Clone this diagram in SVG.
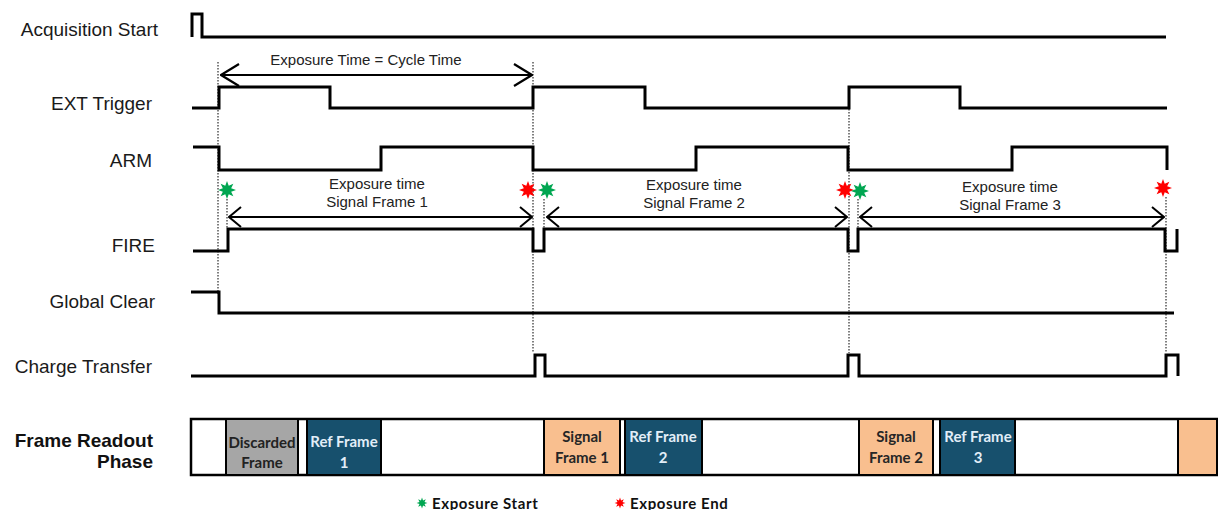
<svg xmlns="http://www.w3.org/2000/svg" xmlns:xlink="http://www.w3.org/1999/xlink" width="1218" height="510" viewBox="0 0 1218 510">
  <style>
    .lbl { font-family: "Liberation Sans", Arial, sans-serif; font-size: 19px; fill: #1a1a1a; text-anchor: end; }
    .sig { fill: none; stroke: #000; stroke-width: 3; stroke-linejoin: miter; }
    .dot { fill: none; stroke: #555; stroke-width: 1.5; stroke-dasharray: 1.5 1.5; }
    .arr { fill: none; stroke: #000; stroke-width: 2; }
    .exp { font-family: "Liberation Sans", Arial, sans-serif; font-size: 15px; fill: #222; text-anchor: middle; }
    .cell { stroke: #000; stroke-width: 2; }
    .ctxt { font-family: Lato, "Open Sans", sans-serif; font-weight: bold; font-size: 15px; text-anchor: middle; }
    .bold { font-family: "Liberation Sans", Arial, sans-serif; font-weight: bold; font-size: 19px; fill: #111; text-anchor: end; }
    .leg { font-family: Lato, "Open Sans", sans-serif; font-weight: bold; font-size: 15px; fill: #111; letter-spacing: 0.6px; }
  </style>
  <defs>
    <marker id="ah" viewBox="0 0 14 22" refX="13" refY="11" markerWidth="14" markerHeight="22" markerUnits="userSpaceOnUse" orient="auto-start-reverse">
      <path d="M1,1 L13,11 L1,21" fill="none" stroke="#000" stroke-width="2"/>
    </marker>
    <marker id="ahBig" viewBox="0 0 20 24" refX="19" refY="12" markerWidth="20" markerHeight="24" markerUnits="userSpaceOnUse" orient="auto-start-reverse">
      <path d="M1,1 L19,12 L1,23" fill="none" stroke="#000" stroke-width="2.2"/>
    </marker>
    <path id="star" d="M0,-9 L1.72,-4.16 L6.36,-6.36 L4.16,-1.72 L9,0 L4.16,1.72 L6.36,6.36 L1.72,4.16 L0,9 L-1.72,4.16 L-6.36,6.36 L-4.16,1.72 L-9,0 L-4.16,-1.72 L-6.36,-6.36 L-1.72,-4.16 Z"/>
  </defs>

  <!-- signal labels -->
  <g id="labels">
    <text class="lbl" x="158" y="36">Acquisition Start</text>
    <text class="lbl" x="152" y="110">EXT Trigger</text>
    <text class="lbl" x="152" y="167">ARM</text>
    <text class="lbl" x="155" y="252">FIRE</text>
    <text class="lbl" x="155" y="308">Global Clear</text>
    <text class="lbl" x="152" y="373">Charge Transfer</text>
  </g>

  <!-- dotted reference lines -->
  <g id="guides">
    <line class="dot" x1="218" y1="62" x2="218" y2="294"/>
    <line class="dot" x1="533" y1="62" x2="533" y2="353"/>
    <line class="dot" x1="849" y1="109" x2="849" y2="353"/>
    <line class="dot" x1="1166" y1="197" x2="1166" y2="353"/>
    <line class="dot" x1="227" y1="199" x2="227" y2="229"/>
    <line class="dot" x1="544" y1="199" x2="544" y2="229"/>
    <line class="dot" x1="858" y1="199" x2="858" y2="229"/>
  </g>

  <!-- signals -->
  <g id="acq-start"><path class="sig" d="M192,37 V14 H202 V37 H1166"/></g>
  <g id="ext-trigger"><path class="sig" d="M192,108 H219 V87 H330 V108 H533 V87 H645 V108 H849 V87 H960 V108 H1167"/></g>
  <g id="arm"><path class="sig" d="M193,147 H219 V170 H381 V147 H533 V170 H696 V147 H848 V170 H1012 V147 H1167 V170"/></g>
  <g id="fire"><path class="sig" d="M193,251 H228 V229 H533 V251 H544 V229 H848 V251 H858 V229 H1165 V251 H1177 V229"/></g>
  <g id="global-clear"><path class="sig" d="M191,292 H219 V313 H1174"/></g>
  <g id="charge-transfer"><path class="sig" d="M191,376 H535 V355 H545 V376 H848 V355 H859 V376 H1166 V355 H1178 V376"/></g>

  <!-- dimension arrows -->
  <g id="connectors">
    <line class="arr" x1="221" y1="75" x2="532" y2="75" marker-start="url(#ahBig)" marker-end="url(#ahBig)"/>
    <line class="arr" x1="229" y1="217" x2="532" y2="217" marker-start="url(#ah)" marker-end="url(#ah)"/>
    <line class="arr" x1="547" y1="217" x2="847" y2="217" marker-start="url(#ah)" marker-end="url(#ah)"/>
    <line class="arr" x1="860" y1="217" x2="1164" y2="217" marker-start="url(#ah)" marker-end="url(#ah)"/>
  </g>

  <g id="arrow-texts">
    <text class="exp" x="366" y="65">Exposure Time = Cycle Time</text>
    <text class="exp" x="377" y="189">Exposure time</text>
    <text class="exp" x="377" y="207">Signal Frame 1</text>
    <text class="exp" x="694" y="190">Exposure time</text>
    <text class="exp" x="694" y="208">Signal Frame 2</text>
    <text class="exp" x="1010" y="192">Exposure time</text>
    <text class="exp" x="1010" y="210">Signal Frame 3</text>
  </g>

  <!-- exposure start / end markers -->
  <g id="stars">
    <use xlink:href="#star" href="#star" x="227" y="190" fill="#00a651"/>
    <use xlink:href="#star" href="#star" x="528" y="190" fill="#ff0000"/>
    <use xlink:href="#star" href="#star" x="547" y="190" fill="#00a651"/>
    <use xlink:href="#star" href="#star" x="845" y="190" fill="#ff0000"/>
    <use xlink:href="#star" href="#star" x="860" y="191" fill="#00a651"/>
    <use xlink:href="#star" href="#star" x="1163" y="188" fill="#ff0000"/>
  </g>

  <!-- frame readout phase -->
  <g id="readout-label">
    <text class="bold" x="153" y="447">Frame Readout</text>
    <text class="bold" x="153" y="468">Phase</text>
  </g>
  <g id="readout">
    <rect x="191" y="419" width="1026" height="56" fill="#fff" stroke="#000" stroke-width="2.5"/>
    <g id="discarded">
      <rect class="cell" x="226" y="419" width="72" height="56" fill="#a6a6a6"/>
      <text class="ctxt" x="262" y="448" fill="#222">Discarded</text>
      <text class="ctxt" x="262" y="468" fill="#222">Frame</text>
    </g>
    <g id="ref1">
      <rect class="cell" x="307" y="419" width="74" height="56" fill="#17506d"/>
      <text class="ctxt" x="344" y="447" fill="#e2eef8">Ref Frame</text>
      <text class="ctxt" x="344" y="468" fill="#e2eef8">1</text>
    </g>
    <g id="sig1">
      <rect class="cell" x="544" y="419" width="76" height="56" fill="#f9bf8f"/>
      <text class="ctxt" x="582" y="442" fill="#262626">Signal</text>
      <text class="ctxt" x="582" y="463" fill="#262626">Frame 1</text>
    </g>
    <g id="ref2">
      <rect class="cell" x="625" y="419" width="77" height="56" fill="#17506d"/>
      <text class="ctxt" x="663" y="442" fill="#e2eef8">Ref Frame</text>
      <text class="ctxt" x="663" y="463" fill="#e2eef8">2</text>
    </g>
    <g id="sig2">
      <rect class="cell" x="859" y="419" width="74" height="56" fill="#f9bf8f"/>
      <text class="ctxt" x="896" y="442" fill="#262626">Signal</text>
      <text class="ctxt" x="896" y="463" fill="#262626">Frame 2</text>
    </g>
    <g id="ref3">
      <rect class="cell" x="940" y="419" width="75" height="56" fill="#17506d"/>
      <text class="ctxt" x="978" y="442" fill="#e2eef8">Ref Frame</text>
      <text class="ctxt" x="978" y="463" fill="#e2eef8">3</text>
    </g>
    <g id="sig3">
      <rect class="cell" x="1178" y="419" width="39" height="56" fill="#f9bf8f"/>
    </g>
  </g>

  <!-- legend -->
  <g id="legend">
    <use xlink:href="#star" href="#star" transform="translate(422,503) scale(0.6)" fill="#00a651"/>
    <text class="leg" x="432" y="509">Exposure  Start</text>
    <use xlink:href="#star" href="#star" transform="translate(620,503) scale(0.6)" fill="#ff0000"/>
    <text class="leg" x="630" y="509">Exposure  End</text>
  </g>
</svg>
